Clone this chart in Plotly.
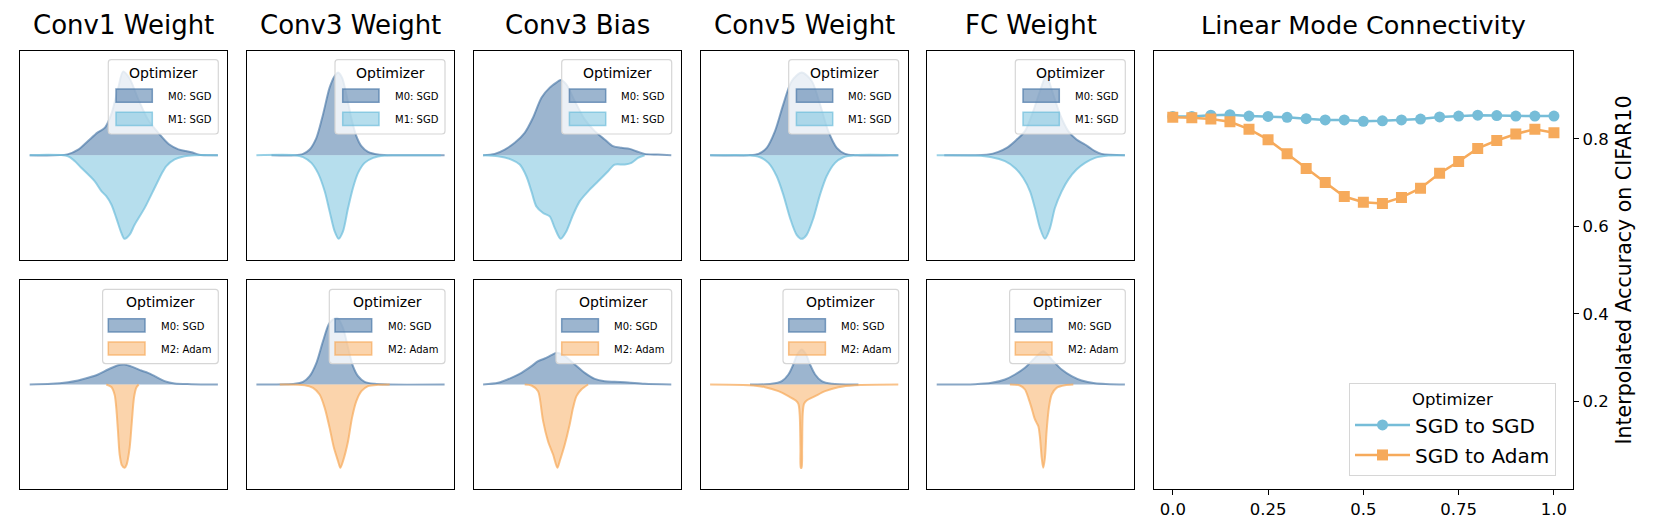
import plotly.graph_objects as go

# ---------------- data ----------------
panel_titles = ["Conv1 Weight", "Conv3 Weight", "Conv3 Bias", "Conv5 Weight", "FC Weight"]
legend_title = "Optimizer"
top_names = ["M0: SGD", "M1: SGD"]
bottom_names = ["M0: SGD", "M2: Adam"]

# weight value (arbitrary 0-100 scale) and density (lower-peak = 100)
# Conv1 Weight
c1_top_m0_x = [0, 20, 26, 31, 36, 40, 43.5, 47, 49.6, 53, 57.5, 63, 69, 74, 79, 83, 86, 90, 100]
c1_top_m0_y = [0, 1, 7, 17, 27, 33, 50, 80, 100, 92, 68, 42, 25, 13, 7, 5, 3.6, 0.5, 0]
c1_top_m1_x = [0, 20.4, 23.9, 27.4, 34.5, 38.1, 40.7, 43.4, 46, 48.7, 50.4, 53.1, 55.8, 61.1, 66.4, 69.9, 72.6, 77, 82.3, 87.6, 100]
c1_top_m1_y = [0, 1.2, 7, 15, 31, 43, 49, 59, 75, 93, 100, 95, 83, 63, 39, 23, 13, 5, 1.2, 0, 0]
c1_bot_m0_x = [0, 11.5, 20.4, 25.7, 31, 36.3, 41.6, 46.9, 50.4, 54.9, 59.3, 62.8, 66.4, 71.7, 77, 85.8, 100]
c1_bot_m0_y = [0, 0.8, 2.8, 4.8, 8, 12, 18, 23.2, 24, 20.8, 16.8, 14, 10, 4, 1.2, 0.4, 0]
c1_bot_m2_x = [40.7, 43.4, 45.1, 46, 46.9, 47.8, 49, 50.4, 51.5, 53.1, 54.3, 55.4, 56.6, 57.9]
c1_bot_m2_y = [0, 3, 12, 28, 56, 84, 97, 100, 96, 76, 44, 16, 4, 0]

# Conv3 Weight
c3w_top_m0_x = [8, 20.4, 24.8, 28.3, 31.9, 35.4, 38.9, 41.6, 43.4, 45.5, 47.8, 50.4, 53.1, 55.8, 59.3, 64.6, 69.9, 100]
c3w_top_m0_y = [0, 0, 1.6, 6.8, 20.8, 48.8, 80.8, 94.8, 99, 92.8, 72.8, 44.8, 22.8, 10.8, 4, 0.8, 0, 0]
c3w_top_m1_x = [0, 20.4, 24.8, 29.2, 32.7, 36.3, 38.9, 41.6, 43.7, 46, 48.7, 51.3, 54, 57.5, 62, 68.1, 73.5, 98]
c3w_top_m1_y = [0, 0, 2.4, 9.2, 21.2, 43.2, 67.2, 91.2, 100, 91.2, 63.2, 39.2, 21.2, 9.2, 3.2, 0.4, 0, 0]
c3w_bot_m0_x = [0, 20.4, 24.8, 28.3, 31.9, 35.4, 38.9, 42.8, 46, 48.7, 51.3, 54, 57.5, 62.8, 69.9, 100]
c3w_bot_m0_y = [0, 0.8, 3.2, 10, 26, 52, 74, 80, 68, 44, 22, 10, 3.2, 0.8, 0, 0]
c3w_bot_m2_x = [12.4, 25.7, 30.1, 33.6, 36.3, 38.9, 41.2, 43.4, 44.6, 46, 48.7, 50.8, 53.1, 55.8, 59.3, 64.6, 70.8]
c3w_bot_m2_y = [0, 0.8, 4, 12, 28, 52, 76, 92, 100, 92, 68, 40, 20, 8, 2, 0.4, 0]

# Conv3 Bias
c3b_top_m0_x = [0, 6.2, 11.5, 16.8, 22.1, 26.5, 31, 35.4, 38.9, 41.2, 44.2, 48.7, 54, 59.3, 64.6, 69, 73.5, 77.9, 81.4, 85.8, 92.9, 100]
c3b_top_m0_y = [0, 1.6, 6.8, 14.8, 26.8, 44.8, 68.8, 80.8, 86.8, 90, 84.8, 64.8, 42.8, 28.8, 18.8, 10.8, 8.8, 7.6, 4.8, 1.6, 0.8, 0]
c3b_top_m1_x = [0, 8, 15, 19.5, 23, 25.7, 28.3, 31.9, 35.4, 38.1, 41.2, 44.2, 47.8, 51.3, 55.8, 61.1, 66.4, 69.9, 75.2, 78.8, 82.3, 85.8]
c3b_top_m1_y = [0, 1.2, 5.2, 11.2, 25.2, 43.2, 61.2, 69.2, 73.2, 87.2, 100, 91.2, 71.2, 55.2, 43.2, 31.2, 19.2, 11.2, 11.2, 9.2, 3.2, 0]
c3b_bot_m0_x = [0, 8, 15, 20.4, 25.7, 29.2, 32.7, 36.3, 39.1, 43.4, 48.7, 54, 59.3, 64.6, 69.9, 77, 85.8, 100]
c3b_bot_m0_y = [0, 2, 8, 14, 22, 28, 31.2, 35.2, 38, 34, 24, 14, 6.8, 4, 3.2, 2.4, 0.8, 0]
c3b_bot_m2_x = [22.1, 25.7, 29.2, 30.1, 31.9, 34.5, 37.2, 39.5, 40.7, 43.4, 46, 47.8, 49.6, 52.2, 55.8]
c3b_bot_m2_y = [0, 1.2, 8, 16, 44, 68, 84, 100, 92, 72, 48, 28, 14, 6, 0]

# Conv5 Weight
c5w_top_m0_x = [0, 20.4, 25.7, 30.1, 34.5, 38.9, 43.4, 48.7, 54, 58.4, 62.8, 67.3, 71.7, 77, 100]
c5w_top_m0_y = [0, 0, 1.6, 8.8, 28.8, 60.8, 88.8, 99, 88.8, 60.8, 28.8, 8.8, 1.6, 0, 0]
c5w_top_m1_x = [0, 20.4, 26.5, 31, 35.4, 38.9, 42.5, 46, 48.7, 51.3, 54.9, 58.4, 61.9, 66.4, 70.8, 77, 100]
c5w_top_m1_y = [0, 0, 2.4, 9.2, 25.2, 47.2, 75.2, 95.2, 100, 95.2, 75.2, 47.2, 25.2, 9.2, 2.4, 0, 0]
c5w_bot_m0_x = [21.2, 32.7, 38.1, 41.6, 44.2, 46.5, 48.7, 50.8, 53.1, 55.8, 59.3, 64.6, 78.8]
c5w_bot_m0_y = [0, 0.8, 4, 12, 24, 36.8, 42, 36.8, 24, 12, 4, 0.8, 0]
c5w_bot_m2_x = [0, 20.4, 29.2, 36.3, 41.6, 45.5, 46.9, 47.6, 48, 48.2, 48.6, 48.9, 49.2, 49.9, 51.3, 55.8, 61.1, 68.1, 77, 100]
c5w_bot_m2_y = [0, 0.8, 3.2, 8, 14, 19.2, 23.2, 36, 76, 100, 100, 76, 36, 23.2, 19.2, 14, 8, 3.2, 0.8, 0]

# FC Weight
fc_top_m0_x = [4, 27.4, 32.7, 37.2, 41.6, 46.9, 51.3, 54.9, 58.2, 61.9, 65.5, 69.9, 74.3, 78.8, 81.4, 84.1, 87.6, 100]
fc_top_m0_y = [0, 0.8, 4, 8.8, 16.8, 28.8, 52.8, 76.8, 94.8, 72.8, 48.8, 28.8, 18.8, 12.8, 8.8, 4.8, 1.6, 0]
fc_top_m1_x = [0, 20.4, 29.2, 36.3, 41.6, 46, 49.6, 52.2, 54.9, 57.5, 60.2, 62.8, 66.4, 69.9, 74.3, 78.8, 84.1, 91.2, 100]
fc_top_m1_y = [0, 0.4, 2.4, 7.2, 15.2, 27.2, 43.2, 63.2, 87.2, 100, 87.2, 63.2, 43.2, 29.2, 17.2, 9.2, 3.2, 0.4, 0]
fc_bot_m0_x = [0, 20.4, 29.2, 36.3, 41.6, 46.9, 51.3, 56.6, 61.9, 66.4, 71.7, 77, 84.1, 100]
fc_bot_m0_y = [0, 0.4, 2, 6, 12, 20, 30, 40, 28, 18, 10, 4.8, 1.6, 0]
fc_bot_m2_x = [38.9, 44.2, 46.9, 48.7, 50.4, 51.9, 53.1, 54, 54.9, 55.8, 56.6, 57.5, 58.4, 59.6, 61.1, 63.7, 68.1, 72.6]
fc_bot_m2_y = [0, 1.2, 6, 16, 28, 40, 46, 50, 64, 88, 100, 88, 56, 28, 12, 4, 0.8, 0]

# Linear mode connectivity
interp_alpha = [0.0, 0.05, 0.1, 0.15, 0.2, 0.25, 0.3, 0.35, 0.4, 0.45, 0.5,
                0.55, 0.6, 0.65, 0.7, 0.75, 0.8, 0.85, 0.9, 0.95, 1.0]
acc_sgd_to_sgd = [0.851, 0.851, 0.854, 0.855, 0.852, 0.851, 0.849, 0.846, 0.843, 0.843, 0.840,
                  0.841, 0.843, 0.845, 0.850, 0.852, 0.854, 0.853, 0.852, 0.852, 0.852]
acc_sgd_to_adam = [0.849, 0.848, 0.845, 0.839, 0.822, 0.798, 0.766, 0.732, 0.700, 0.668, 0.655,
                   0.652, 0.666, 0.687, 0.721, 0.748, 0.778, 0.796, 0.811, 0.822, 0.814]
line_names = ["SGD to SGD", "SGD to Adam"]
x_tick_vals = [0.0, 0.25, 0.5, 0.75, 1.0]
x_tick_text = ["0.0", "0.25", "0.5", "0.75", "1.0"]
y_tick_vals = [0.2, 0.4, 0.6, 0.8]
y_tick_text = ["0.2", "0.4", "0.6", "0.8"]
right_title = "Linear Mode Connectivity"
right_ylabel = "Interpolated Accuracy on CIFAR10"

# ---------------- layout helpers ----------------
W, H = 1660, 523
FONT = "DejaVu Sans"
col_x0 = [12.3, 239.0, 465.7, 692.7, 919.3]
col_w = 207.0
row_y = [(42.7, 251.7), (272.3, 480.7)]
right_box = (1145.7, 1565.0, 43.3, 480.7)

C_M0 = (74, 120, 168)
C_M1 = (110, 190, 220)
C_M2 = (247, 170, 90)
C_LINE_SGD = "#76bdd8"
C_LINE_ADAM = "#f6aa5b"


def rgba(c, a):
    return f"rgba({c[0]},{c[1]},{c[2]},{a})"


def px(x):
    return x / W


def py(y):
    return 1 - y / H


def rounded_rect(x0, y0, x1, y1, r=3):
    X0, X1 = px(x0), px(x1)
    Y0, Y1 = py(y0), py(y1)
    rx, ry = r / W, r / H
    return (f"M {X0 + rx},{Y0} L {X1 - rx},{Y0} Q {X1},{Y0} {X1},{Y0 - ry} "
            f"L {X1},{Y1 + ry} Q {X1},{Y1} {X1 - rx},{Y1} L {X0 + rx},{Y1} "
            f"Q {X0},{Y1} {X0},{Y1 + ry} L {X0},{Y0 - ry} Q {X0},{Y0} {X0 + rx},{Y0} Z")


panels = [
    [(c1_top_m0_x, c1_top_m0_y, c1_top_m1_x, c1_top_m1_y),
     (c1_bot_m0_x, c1_bot_m0_y, c1_bot_m2_x, c1_bot_m2_y)],
    [(c3w_top_m0_x, c3w_top_m0_y, c3w_top_m1_x, c3w_top_m1_y),
     (c3w_bot_m0_x, c3w_bot_m0_y, c3w_bot_m2_x, c3w_bot_m2_y)],
    [(c3b_top_m0_x, c3b_top_m0_y, c3b_top_m1_x, c3b_top_m1_y),
     (c3b_bot_m0_x, c3b_bot_m0_y, c3b_bot_m2_x, c3b_bot_m2_y)],
    [(c5w_top_m0_x, c5w_top_m0_y, c5w_top_m1_x, c5w_top_m1_y),
     (c5w_bot_m0_x, c5w_bot_m0_y, c5w_bot_m2_x, c5w_bot_m2_y)],
    [(fc_top_m0_x, fc_top_m0_y, fc_top_m1_x, fc_top_m1_y),
     (fc_bot_m0_x, fc_bot_m0_y, fc_bot_m2_x, fc_bot_m2_y)],
]

fig = go.Figure()
layout = {}
annotations = []
shapes = []

k = 0
for c in range(5):
    for r in range(2):
        k += 1
        ax = "" if k == 1 else str(k)
        m0x, m0y, mbx, mby = panels[c][r]
        lower_col = C_M1 if r == 0 else C_M2
        names = top_names if r == 0 else bottom_names
        fig.add_trace(go.Scatter(
            x=m0x, y=m0y, mode="lines", fill="toself",
            fillcolor=rgba(C_M0, 0.55), line=dict(color=rgba(C_M0, 0.65), width=2, shape="spline", smoothing=0.8),
            name=names[0], showlegend=False, xaxis="x" + ax, yaxis="y" + ax, hoverinfo="skip"))
        fig.add_trace(go.Scatter(
            x=mbx, y=[-v for v in mby], mode="lines", fill="toself",
            fillcolor=rgba(lower_col, 0.5), line=dict(color=rgba(lower_col, 0.7), width=2, shape="spline", smoothing=0.8),
            name=names[1], showlegend=False, xaxis="x" + ax, yaxis="y" + ax, hoverinfo="skip"))
        x0 = col_x0[c]
        xr = x0 + col_w
        y0, y1 = row_y[r]
        layout["xaxis" + ax] = dict(domain=[px(x0), px(xr)], range=[-5, 105], anchor="y" + ax,
                                    showticklabels=False, ticks="", showgrid=False, zeroline=False,
                                    showline=True, mirror=True, linecolor="black", linewidth=1.3)
        layout["yaxis" + ax] = dict(domain=[py(y1), py(y0)], range=[-125, 125], anchor="x" + ax,
                                    showticklabels=False, ticks="", showgrid=False, zeroline=False,
                                    showline=True, mirror=True, linecolor="black", linewidth=1.3)
        # legend (drawn as a matplotlib-style box)
        if r == 0:
            box_l, patch_l, patch_r, text_l, title_dx = 119, 111.3, 75, 61.3, 63.5
        else:
            box_l, patch_l, patch_r, text_l, title_dx = 124.7, 119, 82.3, 68.3, 67
        shapes.append(dict(type="path", xref="paper", yref="paper",
                           path=rounded_rect(xr - box_l, y0 + 9, xr - 9, y0 + 83.3),
                           fillcolor="rgba(255,255,255,0.8)", line=dict(color="#d6d6d6", width=1.2)))
        annotations.append(dict(text=legend_title, x=px(xr - title_dx), y=py(y0 + 22), xref="paper", yref="paper",
                                xanchor="center", yanchor="middle", showarrow=False,
                                font=dict(family=FONT, size=14, color="black")))
        for j, (col, alpha_f) in enumerate([(C_M0, 0.55), (lower_col, 0.5)]):
            ty = y0 + 38.4 + j * 23.2
            shapes.append(dict(type="rect", xref="paper", yref="paper",
                               x0=px(xr - patch_l), x1=px(xr - patch_r), y0=py(ty), y1=py(ty + 13.2),
                               fillcolor=rgba(col, alpha_f), line=dict(color=rgba(col, 0.7), width=1.5)))
            annotations.append(dict(text=names[j], x=px(xr - text_l), y=py(ty + 7.6), xref="paper", yref="paper",
                                    xanchor="left", yanchor="middle", showarrow=False,
                                    font=dict(family=FONT, size=10, color="black")))
    annotations.append(dict(text=panel_titles[c], x=px(col_x0[c] + col_w / 2), y=py(17),
                            xref="paper", yref="paper", xanchor="center", yanchor="middle",
                            showarrow=False, font=dict(family=FONT, size=26, color="black")))

# right panel
k += 1
ax = str(k)
fig.add_trace(go.Scatter(x=interp_alpha, y=acc_sgd_to_sgd, mode="lines+markers", name=line_names[0],
                         line=dict(color=C_LINE_SGD, width=2.5), marker=dict(symbol="circle", size=11, color=C_LINE_SGD),
                         legendgroup="a", xaxis="x" + ax, yaxis="y" + ax))
fig.add_trace(go.Scatter(x=interp_alpha, y=acc_sgd_to_adam, mode="lines+markers", name=line_names[1],
                         line=dict(color=C_LINE_ADAM, width=2.5), marker=dict(symbol="square", size=11, color=C_LINE_ADAM),
                         legendgroup="b", xaxis="x" + ax, yaxis="y" + ax))
rx0, rx1, ry0, ry1 = right_box
layout["xaxis" + ax] = dict(domain=[px(rx0), px(rx1)], range=[-0.05, 1.05], anchor="y" + ax,
                            tickvals=x_tick_vals, ticktext=x_tick_text, ticks="outside", ticklen=5, tickwidth=1.2,
                            tickcolor="black", tickfont=dict(family=FONT, size=16.5, color="black"),
                            showgrid=False, zeroline=False, showline=True, mirror=True, linecolor="black", linewidth=1.3)
layout["yaxis" + ax] = dict(domain=[py(ry1), py(ry0)], range=[0, 1], anchor="x" + ax, side="right",
                            tickvals=y_tick_vals, ticktext=y_tick_text, ticks="outside", ticklen=5, tickwidth=1.2,
                            tickcolor="black", tickfont=dict(family=FONT, size=16.5, color="black"),
                            title=dict(text=right_ylabel, font=dict(family=FONT, size=20.5, color="black"), standoff=8),
                            showgrid=False, zeroline=False, showline=True, mirror=True, linecolor="black", linewidth=1.3)
layout["legend"] = dict(x=px(1548), xanchor="right", y=py(468), yanchor="bottom",
                        bgcolor="rgba(255,255,255,0.8)", bordercolor="#d6d6d6", borderwidth=1,
                        font=dict(family=FONT, size=20, color="black"),
                        title=dict(text=legend_title, side="top center", font=dict(family=FONT, size=16.5, color="black")),
                        itemwidth=55, tracegroupgap=1, traceorder="grouped")
annotations.append(dict(text=right_title, x=px((rx0 + rx1) / 2), y=py(17),
                        xref="paper", yref="paper", xanchor="center", yanchor="middle",
                        showarrow=False, font=dict(family=FONT, size=25.5, color="black")))

fig.update_layout(**layout)
fig.update_layout(width=W, height=H, margin=dict(l=0, r=0, t=0, b=0),
                  paper_bgcolor="white", plot_bgcolor="white", showlegend=True,
                  annotations=annotations, shapes=shapes, font=dict(family=FONT, color="black"))

fig.write_html("out.html")
